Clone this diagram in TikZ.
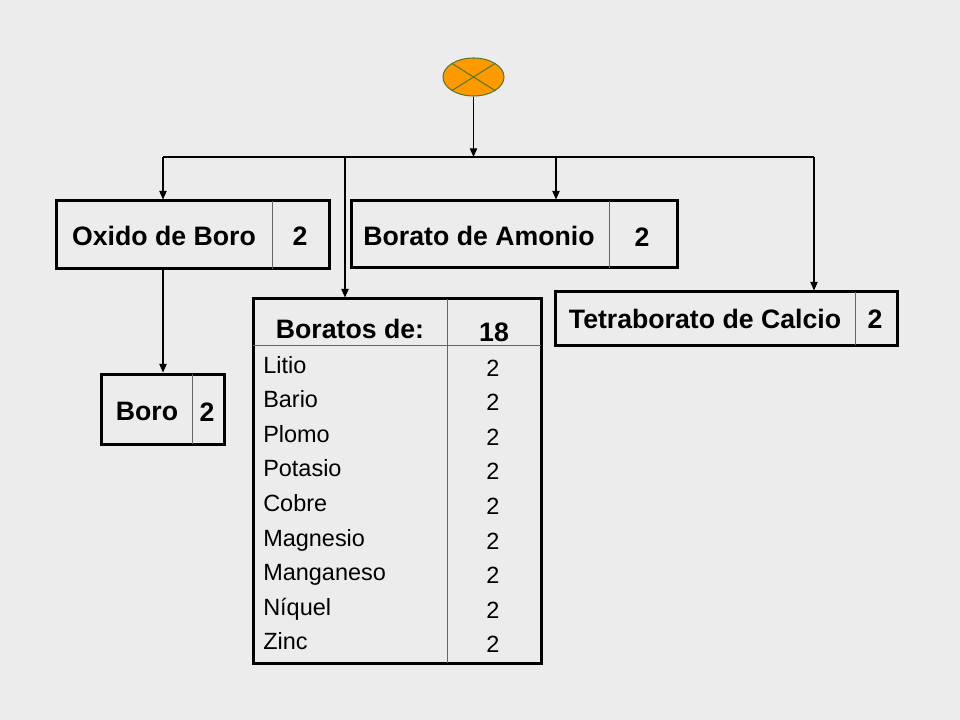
\documentclass[tikz,border=0pt]{standalone}
\usepackage{fontspec}
\setmainfont{Liberation Sans}
\usetikzlibrary{shapes.geometric,arrows.meta}

\begin{document}
\begin{tikzpicture}[x=0.75pt,y=-0.75pt,
    cellbox/.style={draw=black,line width=2.25pt,inner sep=0pt},
    divider/.style={draw=black!60,line width=0.6pt},
    link/.style={draw=black,line width=0.9pt,-{Triangle[length=6.5pt,width=5.5pt]}},
    bigtext/.style={font=\fontsize{20}{24}\selectfont\bfseries,anchor=base,inner sep=0pt},
    itemtext/.style={font=\fontsize{17.6}{21}\selectfont,anchor=base west,inner sep=0pt},
    itemnum/.style={font=\fontsize{17.6}{21}\selectfont,anchor=base,inner sep=0pt}]
    % Define colors
    \definecolor{paper}{RGB}{236,236,236}
    \definecolor{rootorange}{RGB}{255,153,0}
    \definecolor{rootgreen}{RGB}{90,120,40}

    % Background
    \fill[paper] (0,0) rectangle (960,720);

    % Top node
    \node[ellipse,draw=rootgreen,fill=rootorange,line width=0.8pt,inner sep=0pt,
          minimum width=45.75pt,minimum height=28.5pt] (root) at (473.5,77) {};
    \draw[rootgreen,line width=0.8pt] (root.north west) -- (root.south east);
    \draw[rootgreen,line width=0.8pt] (root.north east) -- (root.south west);

    % Boxes
    \node[cellbox,minimum width=204.75pt,minimum height=51pt] (oxido) at (192.5,235) {};
    \node[cellbox,minimum width=92.25pt,minimum height=52.5pt] (boro) at (162.5,409) {};
    \node[cellbox,minimum width=244.5pt,minimum height=50.25pt] (amonio) at (514,234.5) {};
    \node[cellbox,minimum width=256.5pt,minimum height=39.75pt] (tetra) at (726,318.5) {};
    \node[cellbox,minimum width=216pt,minimum height=273pt] (boratos) at (397,481) {};

    % Cell dividers
    \draw[divider] (272,201) -- (272,269);
    \draw[divider] (192,374) -- (192,444);
    \draw[divider] (609,201) -- (609,268);
    \draw[divider] (855,292) -- (855,345);
    \draw[divider] (447,299) -- (447,663);
    \draw[divider] (253,345) -- (541,345);

    % Box texts
    \node[bigtext] (oxidoname) at (164,246) {Oxido de Boro};
    \node[bigtext] (oxidonum) at (300,246) {2};
    \node[bigtext] (boroname) at (147,420) {Boro};
    \node[bigtext] (boronum) at (207,421) {2};
    \node[bigtext] (amonioname) at (479,246) {Borato de Amonio};
    \node[bigtext] (amonionum) at (642,247) {2};
    \node[bigtext] (tetraname) at (705,328) {Tetraborato de Calcio};
    \node[bigtext] (tetranum) at (875,328) {2};
    \node[bigtext] (boratosname) at (350,338) {Boratos de:};
    \node[bigtext] (boratosnum) at (494,341) {18};

    % Boratos list
    \foreach \metal [count=\i] in {Litio,Bario,Plomo,Potasio,Cobre,Magnesio,Manganeso,Níquel,Zinc} {
        \node[itemtext] (metal\i) at (263,373+34.6*\i-34.6) {\metal};
        \node[itemnum] (count\i) at (493,376+34.6*\i-34.6) {2};
    }

    % Connectors
    \coordinate (busL) at (163,157);
    \coordinate (busB) at (345,157);
    \coordinate (busA) at (556,157);
    \coordinate (busR) at (814,157);
    \draw[link] (root.south) -- (root.south |- busL);
    \draw[line width=0.9pt] (busL) -- (busR);
    \draw[link] (busL) -- (busL |- oxido.north);
    \draw[link] (busB) -- (busB |- boratos.north);
    \draw[link] (busA) -- (busA |- amonio.north);
    \draw[link] (busR) -- (busR |- tetra.north);
    \draw[link] (busL |- oxido.south) -- (busL |- boro.north);
\end{tikzpicture}
\end{document}
